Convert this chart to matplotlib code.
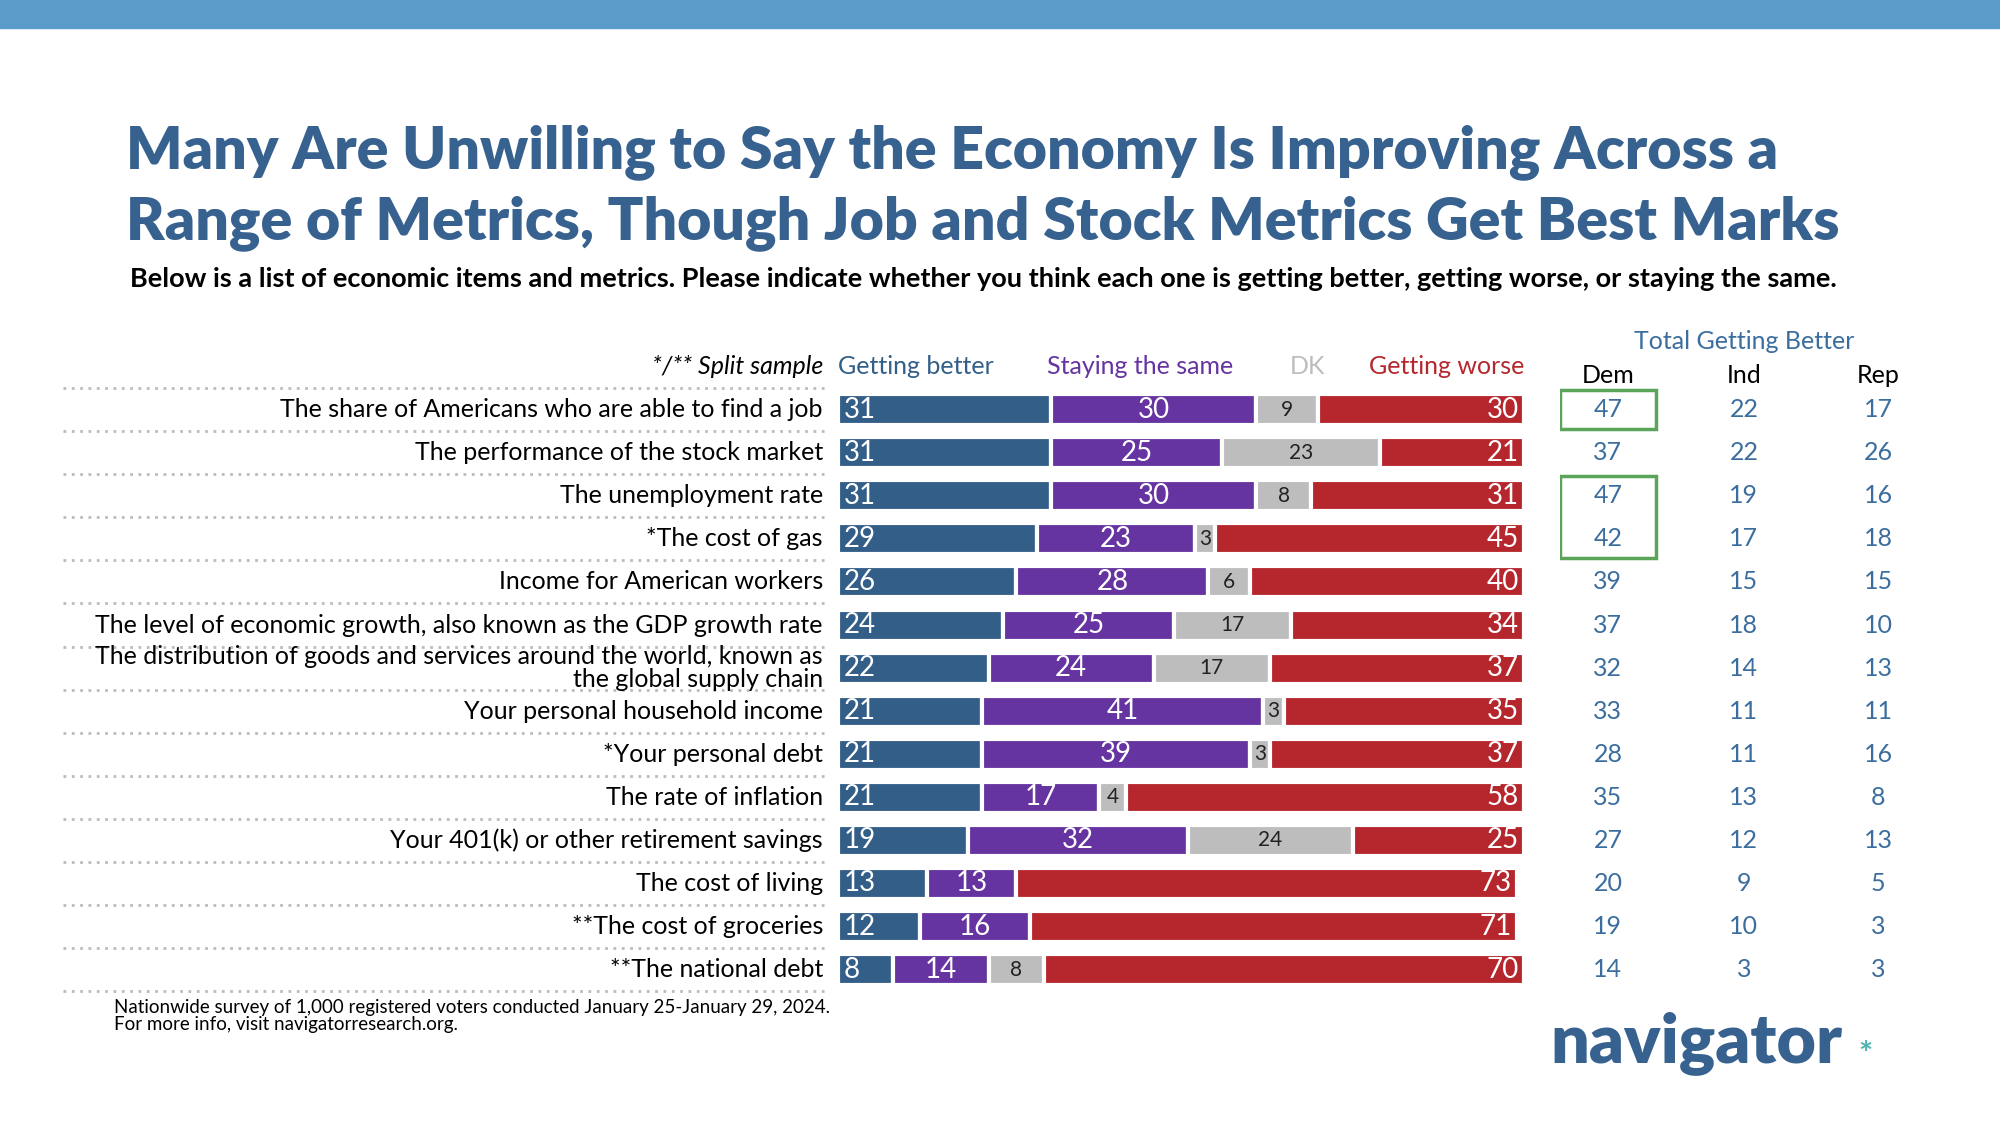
import matplotlib.pyplot as plt
from matplotlib.patches import Rectangle

plt.rcParams['font.family'] = ['Lato', 'DejaVu Sans']

items = ["The share of Americans who are able to find a job", "The performance of the stock market",
         "The unemployment rate", "*The cost of gas", "Income for American workers",
         "The level of economic growth, also known as the GDP growth rate",
         "The distribution of goods and services around the world, known as\nthe global supply chain",
         "Your personal household income", "*Your personal debt", "The rate of inflation",
         "Your 401(k) or other retirement savings", "The cost of living",
         "**The cost of groceries", "**The national debt"]
better = [31, 31, 31, 29, 26, 24, 22, 21, 21, 21, 19, 13, 12, 8]
same = [30, 25, 30, 23, 28, 25, 24, 41, 39, 17, 32, 13, 16, 14]
dk = [9, 23, 8, 3, 6, 17, 17, 3, 3, 4, 24, 0, 0, 8]
worse = [30, 21, 31, 45, 40, 34, 37, 35, 37, 58, 25, 73, 71, 70]
dem = [47, 37, 47, 42, 39, 37, 32, 33, 28, 35, 27, 20, 19, 14]
ind = [22, 22, 19, 17, 15, 18, 14, 11, 11, 13, 12, 9, 10, 3]
rep = [17, 26, 16, 18, 15, 10, 13, 11, 16, 8, 13, 5, 3, 3]

BLUE, PURPLE, GRAY, RED = "#335e88", "#6634a0", "#bdbdbd", "#b5272d"
TITLE = "#37628f"
COLNUM = "#3b6e9e"

fig = plt.figure(figsize=(20, 11.25), dpi=100)
fig.patches.append(Rectangle((0, 0.975), 1, 0.025, transform=fig.transFigure, color="#5b9bc9"))

fig.text(0.063, 0.865, "Many Are Unwilling to Say the Economy Is Improving Across a",
         fontsize=42.5, fontweight="heavy", color=TITLE, va="center")
fig.text(0.063, 0.802, "Range of Metrics, Though Job and Stock Metrics Get Best Marks",
         fontsize=42.5, fontweight="heavy", color=TITLE, va="center")
fig.text(0.065, 0.752, "Below is a list of economic items and metrics. Please indicate whether you think each one is getting better, getting worse, or staying the same.",
         fontsize=19.5, fontweight="bold", va="center")

ax = fig.add_axes([0.419, 0.119, 0.343, 0.536])
n = len(items)
ax.set_xlim(0, 100)
ax.set_ylim(n - 0.5, -0.5)
ax.axis("off")
for i in range(n):
    segs = [(better[i], BLUE, "left", "white"), (same[i], PURPLE, "center", "white"),
            (dk[i], GRAY, "center", "#222222"), (worse[i], RED, "right", "white")]
    left = 0
    for v, c, ha, tc in segs:
        if v > 0:
            ax.barh(i, v, left=left, height=0.72, color=c, edgecolor="white", linewidth=3)
            x = {"left": left + 0.8, "center": left + v / 2, "right": left + v - 0.8}[ha]
            ax.text(x, i, str(v), ha=ha, va="center", color=tc,
                    fontsize=15 if c == GRAY else 20)
        left += v
    ax.text(-2.2, i, items[i], ha="right", va="center", fontsize=18, clip_on=False,
            linespacing=1.0)
for i in range(n + 1):
    ax.plot([-113, -2], [i - 0.5, i - 0.5], ls=(0, (1, 2)), color="#bbbbbb", lw=2, clip_on=False)

hy = -1.0
ax.text(-2.2, hy, "*/** Split sample", ha="right", va="center", fontsize=18, style="italic")
ax.text(0, hy, "Getting better", ha="left", va="center", fontsize=18, color=BLUE)
ax.text(30.5, hy, "Staying the same", ha="left", va="center", fontsize=18, color=PURPLE)
ax.text(68.5, hy, "DK", ha="center", va="center", fontsize=18, color=GRAY)
ax.text(100, hy, "Getting worse", ha="right", va="center", fontsize=18, color=RED)

cax = fig.add_axes([0.78, 0.119, 0.19, 0.536])
cax.set_xlim(0, 1)
cax.set_ylim(n - 0.5, -0.5)
cax.axis("off")
xs = [0.126, 0.484, 0.837]
for xi, vals in zip(xs, [dem, ind, rep]):
    for i, v in enumerate(vals):
        cax.text(xi, i, str(v), ha="center", va="center", fontsize=18, color=COLNUM)
for xi, lab in zip(xs, ["Dem", "Ind", "Rep"]):
    cax.text(xi, -0.8, lab, ha="center", va="center", fontsize=18)
cax.text(0.484, -1.58, "Total Getting Better", ha="center", va="center", fontsize=18, color=COLNUM)
for y0, y1 in [(0, 0), (2, 3)]:
    cax.add_patch(Rectangle((0.0, y0 - 0.45), 0.252, y1 - y0 + 0.9, fill=False,
                            edgecolor="#5aa55a", lw=2.5))

fig.text(0.057, 0.097, "Nationwide survey of 1,000 registered voters conducted January 25-January 29, 2024.\nFor more info, visit navigatorresearch.org.",
         fontsize=13.5, va="center", linespacing=1.05)
fig.text(0.775, 0.073, "navigator", fontsize=49, fontweight="heavy", color=TITLE, va="center")
fig.text(0.929, 0.062, "*", fontsize=24, fontweight="bold", color="#4fb3b0", va="center")

fig.savefig("out.png", dpi=100)
